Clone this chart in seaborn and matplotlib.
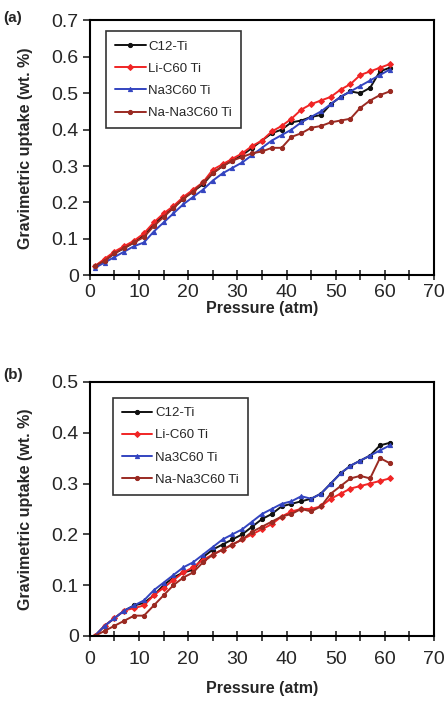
import numpy as np
import pandas as pd
import seaborn as sns
import matplotlib
matplotlib.use("Agg")
import matplotlib.pyplot as plt
from matplotlib.ticker import FuncFormatter, MultipleLocator

sns.set_theme(style="white")
plt.rcParams['font.family'] = ['Liberation Sans', 'DejaVu Sans']

series_names = ["C12-Ti", "Li-C60 Ti", "Na3C60 Ti", "Na-Na3C60 Ti"]

pressure = [1, 3, 5, 7, 9, 11, 13, 15, 17, 19, 21, 23, 25, 27, 29, 31,
            33, 35, 37, 39, 41, 43, 45, 47, 49, 51, 53, 55, 57, 59, 61]

# panel (a)
a_c12 = [0.025, 0.04, 0.06, 0.075, 0.09, 0.11, 0.14, 0.165, 0.185, 0.21, 0.23, 0.25, 0.28, 0.30, 0.315, 0.33,
         0.35, 0.37, 0.39, 0.40, 0.42, 0.425, 0.435, 0.44, 0.47, 0.49, 0.505, 0.50, 0.515, 0.56, 0.57]
a_li = [0.025, 0.045, 0.065, 0.08, 0.095, 0.115, 0.145, 0.17, 0.19, 0.215, 0.235, 0.255, 0.29, 0.305, 0.32, 0.335,
        0.355, 0.37, 0.395, 0.41, 0.43, 0.455, 0.47, 0.48, 0.49, 0.51, 0.525, 0.55, 0.56, 0.57, 0.58]
a_na3 = [0.02, 0.035, 0.05, 0.065, 0.08, 0.09, 0.12, 0.145, 0.17, 0.195, 0.215, 0.235, 0.26, 0.28, 0.295, 0.31,
         0.33, 0.35, 0.37, 0.385, 0.40, 0.42, 0.435, 0.45, 0.47, 0.49, 0.505, 0.52, 0.535, 0.55, 0.565]
a_nana = [0.025, 0.04, 0.06, 0.075, 0.09, 0.105, 0.135, 0.16, 0.185, 0.21, 0.23, 0.255, 0.28, 0.30, 0.315, 0.325,
          0.335, 0.34, 0.35, 0.35, 0.38, 0.39, 0.405, 0.41, 0.42, 0.425, 0.43, 0.46, 0.48, 0.495, 0.505]

# panel (b)
b_c12 = [0.0, 0.02, 0.035, 0.05, 0.06, 0.065, 0.08, 0.10, 0.115, 0.125, 0.13, 0.155, 0.17, 0.18, 0.19, 0.20,
         0.215, 0.23, 0.24, 0.255, 0.26, 0.265, 0.27, 0.28, 0.30, 0.32, 0.335, 0.345, 0.355, 0.375, 0.38]
b_li = [0.0, 0.02, 0.035, 0.05, 0.055, 0.06, 0.08, 0.095, 0.11, 0.125, 0.135, 0.15, 0.16, 0.17, 0.18, 0.19,
        0.20, 0.21, 0.22, 0.235, 0.245, 0.25, 0.25, 0.255, 0.27, 0.28, 0.29, 0.295, 0.30, 0.305, 0.31]
b_na3 = [0.0, 0.02, 0.035, 0.05, 0.06, 0.07, 0.09, 0.105, 0.12, 0.135, 0.145, 0.16, 0.175, 0.19, 0.20, 0.21,
         0.225, 0.24, 0.25, 0.26, 0.265, 0.275, 0.27, 0.28, 0.30, 0.32, 0.335, 0.345, 0.355, 0.365, 0.375]
b_nana = [0.0, 0.01, 0.02, 0.03, 0.04, 0.04, 0.06, 0.08, 0.10, 0.115, 0.125, 0.145, 0.16, 0.17, 0.18, 0.19,
          0.205, 0.215, 0.225, 0.235, 0.24, 0.25, 0.245, 0.255, 0.28, 0.295, 0.31, 0.315, 0.31, 0.35, 0.34]

colors = ["#111111", "#f02525", "#3344c0", "#9a2a22"]
markers = ["o", "D", "^", "o"]

fig = plt.figure(figsize=(4.47, 7.04), dpi=100)
ax_a = fig.add_axes([0.201, 0.609, 0.770, 0.362])
ax_b = fig.add_axes([0.201, 0.0966, 0.770, 0.361])


def draw(ax, data, ymax, anchor, xpad, xlabelpad):
    for name, vals, c, m in zip(series_names, data, colors, markers):
        sns.lineplot(x=pressure, y=vals, ax=ax, color=c, marker=m, markersize=3,
                     markeredgecolor=c, linewidth=1.4, label=name)
    ax.set_xlim(0, 70)
    ax.set_ylim(0, ymax)
    ax.xaxis.set_major_locator(MultipleLocator(10))
    ax.xaxis.set_minor_locator(MultipleLocator(5))
    ax.yaxis.set_major_locator(MultipleLocator(0.1))
    ax.yaxis.set_major_formatter(FuncFormatter(lambda v, p: "0" if abs(v) < 1e-9 else f"{v:.1f}"))
    ax.tick_params(axis="x", which="both", direction="inout", length=7, width=1.2,
                   labelsize=14, bottom=True, pad=xpad)
    ax.tick_params(axis="y", which="both", direction="out", length=5, width=1.2,
                   labelsize=14, left=True, pad=3)
    for s in ax.spines.values():
        s.set_color("black")
        s.set_linewidth(1.5)
    ax.set_xlabel("Pressure (atm)", fontsize=11.5, fontweight="bold", labelpad=xlabelpad)
    ax.set_ylabel("Gravimetric uptake (wt. %)", fontsize=11.5, fontweight="bold", labelpad=13)
    leg = ax.legend(loc="upper left", bbox_to_anchor=anchor, fontsize=9.5, frameon=True,
                    fancybox=False, edgecolor="black", handlelength=2.3, labelspacing=0.75,
                    borderpad=0.7, handletextpad=0.2, borderaxespad=0)
    leg.get_frame().set_linewidth(1.2)


draw(ax_a, [a_c12, a_li, a_na3, a_nana], 0.7, (0.047, 0.957), 3, 0)
draw(ax_b, [b_c12, b_li, b_na3, b_nana], 0.5, (0.067, 0.937), 7, 10)

fig.text(0.008, 1 - 18 / 704, "(a)", fontsize=11, fontweight="bold", va="center")
fig.text(0.008, 1 - 375 / 704, "(b)", fontsize=11, fontweight="bold", va="center")

fig.savefig("out.png", dpi=100)
